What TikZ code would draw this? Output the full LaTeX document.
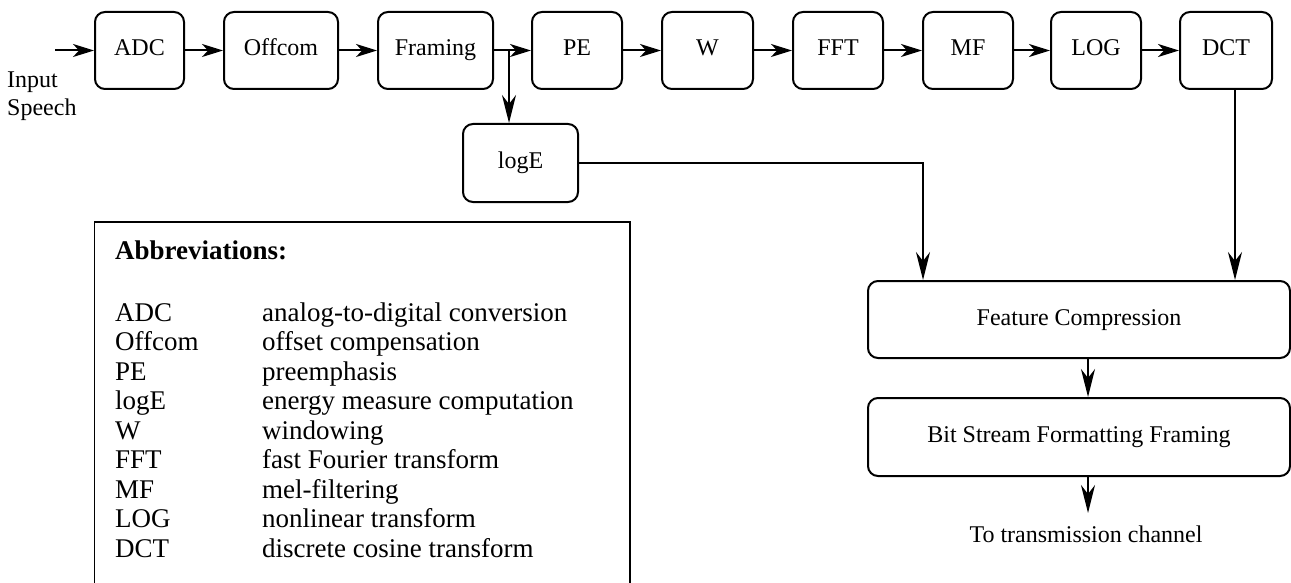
\documentclass[tikz,border=0pt]{standalone}
\usepackage{fontspec}
\setmainfont{Liberation Serif}
\usetikzlibrary{arrows.meta}
\begin{document}
\begin{tikzpicture}[x=1pt,y=-1pt,
  blk/.style={draw, line width=2pt, rounded corners=10pt, inner sep=0pt,
              text height=16pt, text depth=5pt,
              font=\fontsize{24}{28}\selectfont},
  topblk/.style={blk, minimum height=77pt},
  flow/.style={line width=2pt, -{Stealth[length=21pt,width=13pt,inset=6pt]}},
  drop/.style={line width=2pt, -{Stealth[length=28pt,width=14pt,inset=9pt]}},
  lbl/.style={inner sep=0pt, font=\fontsize{24}{28}\selectfont, anchor=base west},
  abbr/.style={inner sep=0pt, font=\fontsize{27}{31}\selectfont, anchor=base west}]
\useasboundingbox (0,0) rectangle (1291,583);

% front-end processing chain
\node[topblk, minimum width=89pt]  (adc) at (139.5,50.5) {ADC};
\node[topblk, minimum width=114pt] (off) at (281,50.5)   {Offcom};
\node[topblk, minimum width=115pt] (frm) at (435.5,50.5) {Framing};
\node[topblk, minimum width=90pt]  (pe)  at (577,50.5)   {PE};
\node[topblk, minimum width=91pt]  (w)   at (707.5,50.5) {W};
\node[topblk, minimum width=90pt]  (fft) at (838,50.5)   {FFT};
\node[topblk, minimum width=90pt]  (mf)  at (968,50.5)   {MF};
\node[topblk, minimum width=90pt]  (log) at (1096,50.5)  {LOG};
\node[topblk, minimum width=92pt]  (dct) at (1226,50.5)  {DCT};

\node[blk, minimum width=115pt, minimum height=78pt] (loge) at (520.5,163) {logE};

\node[blk, minimum width=422pt, minimum height=77pt] (fc) at (1079,319.5) {Feature Compression};
\node[blk, minimum width=422pt, minimum height=78pt] (bs) at (1079,437) {Bit Stream Formatting Framing};

% input label
\node[lbl] (in1) at (7,88)  {Input};
\node[lbl] (in2) at (7,116) {Speech};
\coordinate (src) at (55,50.5);

% connectors along the chain
\draw[flow] (src) -- (adc);
\draw[flow] (adc) -- (off);
\draw[flow] (off) -- (frm);
\draw[flow] (frm) -- (pe);
\draw[flow] (pe)  -- (w);
\draw[flow] (w)   -- (fft);
\draw[flow] (fft) -- (mf);
\draw[flow] (mf)  -- (log);
\draw[flow] (log) -- (dct);

% energy branch
\coordinate (br) at (509,50.5);
\draw[drop] (br) -- (br |- loge.north);
\coordinate (ec) at (923,163);
\draw[drop] (loge.east) -- (ec) -- (ec |- fc.north);

% cepstrum path
\coordinate (dc) at (1235,50.5);
\draw[drop] (dc |- dct.south) -- (dc |- fc.north);

% back end
\coordinate (bk) at (1088,400);
\draw[drop] (bk |- fc.south) -- (bk |- bs.north);
\coordinate (out) at (1088,513);
\draw[drop] (bk |- bs.south) -- (out);
\node[inner sep=0pt, font=\fontsize{24}{28}\selectfont] (tx) at (1086,534) {To transmission channel};

% abbreviations legend
\draw[line width=1.8pt] (94.5,600) -- (94.5,222) -- (630,222) -- (630,600);
\node[abbr, font=\fontsize{27}{31}\selectfont\bfseries] (ttl) at (115,259) {Abbreviations:};
\foreach \a/\d [count=\i from 0] in {ADC/analog-to-digital conversion,
    Offcom/offset compensation, PE/preemphasis, logE/energy measure computation,
    W/windowing, FFT/fast Fourier transform, MF/mel-filtering,
    LOG/nonlinear transform, DCT/discrete cosine transform}{
  \node[abbr] (ab\i) at (115,321+29.5*\i) {\a};
  \node[abbr] (de\i) at (262,321+29.5*\i) {\d};
}
\end{tikzpicture}
\end{document}
